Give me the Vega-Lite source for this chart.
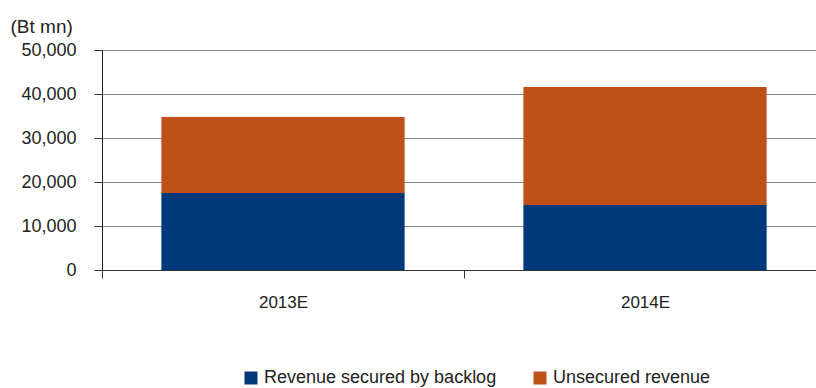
{
  "$schema": "https://vega.github.io/schema/vega-lite/v6.json",
  "autosize": "none",
  "padding": {"left": 102, "top": 50, "right": 0, "bottom": 118},
  "width": 724,
  "height": 220,
  "background": "white",
  "config": {
    "view": {"stroke": null},
    "font": "Liberation Sans",
    "axis": {"labelFont": "Liberation Sans", "titleFont": "Liberation Sans"}
  },
  "data": {
    "values": [
      {"year": "2013E", "series": "Revenue secured by backlog", "value": 17500, "ord": 1},
      {"year": "2013E", "series": "Unsecured revenue", "value": 17300, "ord": 2},
      {"year": "2014E", "series": "Revenue secured by backlog", "value": 14800, "ord": 1},
      {"year": "2014E", "series": "Unsecured revenue", "value": 26800, "ord": 2}
    ]
  },
  "mark": {"type": "bar", "width": {"band": 0.672}},
  "encoding": {
    "x": {
      "field": "year", "type": "nominal",
      "scale": {"paddingInner": 0, "paddingOuter": 0},
      "axis": {
        "title": null, "labelAngle": 0, "labelFontSize": 17, "labelColor": "#222",
        "domainColor": "#333", "tickColor": "#333", "tickSize": 8, "tickBand": "extent",
        "labelPadding": 16, "grid": false
      }
    },
    "y": {
      "field": "value", "type": "quantitative", "stack": "zero",
      "scale": {"domain": [0, 50000]},
      "axis": {
        "values": [0, 10000, 20000, 30000, 40000, 50000],
        "format": ",d",
        "title": "(Bt mn)", "titleAngle": 0, "titleAlign": "left", "titleBaseline": "alphabetic",
        "titleX": -92, "titleY": -18, "titleFontSize": 19, "titleFontWeight": "normal", "titleColor": "#222",
        "labelFontSize": 18, "labelColor": "#222", "labelPadding": 18,
        "tickSize": 8, "tickColor": "#333", "domainColor": "#222",
        "grid": true, "gridColor": "#888", "gridWidth": 1
      }
    },
    "color": {
      "field": "series", "type": "nominal",
      "scale": {"domain": ["Revenue secured by backlog", "Unsecured revenue"], "range": ["#00387A", "#BD5119"]},
      "legend": {
        "title": null, "orient": "none", "legendX": 140, "legendY": 319, "direction": "horizontal",
        "symbolType": "square", "symbolSize": 169, "symbolStrokeWidth": 0, "symbolOpacity": 1,
        "labelFontSize": 18, "labelLimit": 400, "labelColor": "#222", "columnPadding": 34, "labelOffset": 4
      }
    },
    "order": {"field": "ord", "type": "quantitative"}
  }
}
